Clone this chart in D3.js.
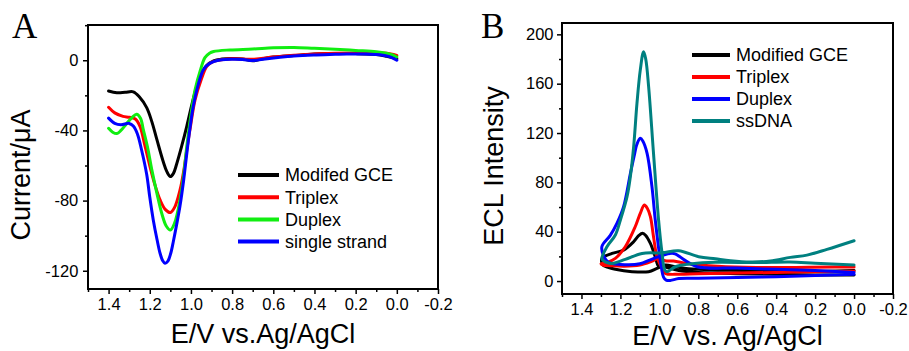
<!DOCTYPE html>
<html><head><meta charset="utf-8">
<script src="https://cdn.jsdelivr.net/npm/d3@7"></script>
<style>
body{margin:0;background:#fff}
svg{display:block}
</style>
</head><body>
<svg id="chart" width="909" height="351"></svg>
<script>
// ---------- Panel A data (E / V, current / uA) ----------
const seriesA = ["Modifed GCE", "Triplex", "Duplex", "single strand"];
const colorsA = ["#000000", "#ff0000", "#11ee11", "#0000ff"];
const modifiedA = [[1.40,-17.5],[1.36,-18.5],[1.32,-18.3],[1.28,-18],[1.25,-21],[1.215,-27],[1.19,-35],[1.166,-45],[1.134,-58],[1.117,-63.5],[1.10,-66.3],[1.085,-64.5],[1.069,-59],[1.045,-49],[1.02,-37.5],[0.995,-25],[0.972,-15],[0.95,-8],[0.924,-3],[0.89,-0.3],[0.85,0.7],[0.8,1],[0.75,0.7],[0.7,-0.3],[0.65,0.8],[0.6,1.8],[0.5,2.7],[0.4,3.5],[0.3,3.8],[0.2,3.8],[0.1,3.3],[0.05,2.3],[0.02,1.5],[0.0,0.8]];
const triplexA = [[1.40,-26.8],[1.37,-30],[1.33,-32],[1.30,-32.5],[1.27,-33.5],[1.247,-37.8],[1.225,-48],[1.199,-60.6],[1.175,-71],[1.15,-79.6],[1.125,-85],[1.10,-86.8],[1.08,-84],[1.053,-73.9],[1.035,-63],[1.02,-51],[1.0,-36],[0.98,-22.6],[0.95,-11],[0.924,-3.6],[0.9,-1.2],[0.875,-0.2],[0.8,0.8],[0.7,0.6],[0.6,1.8],[0.5,2.8],[0.4,3.6],[0.3,4],[0.2,4.2],[0.1,4.3],[0.05,4],[0.0,2.8]];
const duplexA = [[1.40,-38.8],[1.38,-41],[1.36,-41.8],[1.34,-40],[1.312,-36],[1.285,-32.5],[1.264,-30.8],[1.245,-33],[1.231,-39.7],[1.21,-50],[1.19,-62.5],[1.165,-76],[1.142,-87.2],[1.12,-94.5],[1.10,-96.8],[1.08,-93],[1.053,-79.6],[1.035,-65],[1.02,-49],[1.0,-31],[0.98,-16.9],[0.955,-6],[0.932,1.5],[0.91,4],[0.89,5],[0.81,5.9],[0.7,6.4],[0.6,7.1],[0.5,7.3],[0.4,6.8],[0.3,6.3],[0.2,5.6],[0.1,4.9],[0.05,4],[0.02,3],[0.0,1.8]];
const singleA = [[1.40,-33],[1.37,-36],[1.34,-36.8],[1.30,-36],[1.28,-37.5],[1.26,-42],[1.24,-51],[1.215,-65],[1.20,-78],[1.183,-91],[1.165,-102],[1.15,-110],[1.137,-114.3],[1.126,-115.7],[1.112,-114.5],[1.098,-110],[1.085,-103],[1.07,-94],[1.053,-83],[1.035,-68],[1.02,-53],[1.005,-39],[0.989,-26.4],[0.965,-14],[0.94,-5.5],[0.915,-2.3],[0.89,-0.8],[0.85,0.3],[0.8,0.6],[0.75,0.5],[0.7,-0.2],[0.65,0.6],[0.567,1.7],[0.5,2.4],[0.405,3],[0.3,3.4],[0.243,3.6],[0.15,3.5],[0.082,3.2],[0.04,2.2],[0.017,1.1],[0.0,0]];
const xTicksA = [1.4,1.2,1.0,0.8,0.6,0.4,0.2,0.0,-0.2];
const xTickLabelsA = ["1.4","1.2","1.0","0.8","0.6","0.4","0.2","0.0","-0.2"];
const xMinorA = [1.5,1.3,1.1,0.9,0.7,0.5,0.3,0.1,-0.1];
const yTicksA = [0,-40,-80,-120];
const yTickLabelsA = ["0","-40","-80","-120"];
const yMinorA = [20,-20,-60,-100];

// ---------- Panel B data (E / V, ECL intensity), scan loops ----------
const seriesB = ["Modified GCE", "Triplex", "Duplex", "ssDNA"];
const colorsB = ["#000000", "#ff0000", "#0000ff", "#008080"];
const modifiedB = [[0.0,5],[0.2,5],[0.4,5.5],[0.6,6],[0.8,7],[0.9,8.5],[0.95,10.5],[0.985,12],[1.004,12],[1.021,19.7],[1.046,30.5],[1.07,37],[1.086,38.7],[1.105,37],[1.132,31.9],[1.184,25.1],[1.243,22.4],[1.295,18.4],[1.29,13],[1.26,11],[1.226,9.5],[1.14,7.6],[1.055,7.6],[1.012,10.3],[0.969,13],[0.918,11.6],[0.85,10],[0.7,9],[0.5,8.5],[0.3,8],[0.15,8],[0.0,8.5]];
const triplexB = [[0.0,8],[0.2,7.5],[0.4,7],[0.6,6.5],[0.8,6],[0.9,5.5],[0.969,6.2],[0.986,10.3],[1.012,19.7],[1.03,36],[1.046,52.2],[1.062,59],[1.077,61.6],[1.098,54.9],[1.124,44],[1.175,27.8],[1.226,18.4],[1.27,15],[1.30,14],[1.29,13],[1.25,12.5],[1.18,12],[1.1,13],[1.04,16],[1.004,18.4],[0.97,16.5],[0.927,16.2],[0.85,14],[0.7,12],[0.5,11],[0.3,11],[0.1,11.3],[0.0,11.3]];
const duplexB = [[0.0,5.5],[0.2,4.5],[0.4,3.5],[0.6,2.8],[0.8,2.2],[0.9,2],[0.944,0.5],[0.965,0.8],[0.978,3],[0.995,17],[1.021,49.5],[1.038,76.5],[1.063,103.5],[1.085,113.5],[1.098,115.7],[1.115,111],[1.13,101],[1.149,87],[1.184,60],[1.218,46.7],[1.252,37],[1.295,28],[1.285,20],[1.26,15],[1.2,13.5],[1.1,14],[1.05,17],[1.0,20],[0.927,22.4],[0.87,17],[0.807,11.6],[0.6,10.5],[0.4,9.5],[0.2,8.5],[0.0,7]];
const ssdnaB = [[0.0,13],[0.2,14.5],[0.33,15.5],[0.5,15],[0.712,15.2],[0.832,14],[0.918,11.6],[0.96,7.6],[0.972,9],[0.986,22.4],[1.004,49.5],[1.03,103.5],[1.055,157.5],[1.07,180],[1.081,185.9],[1.098,171],[1.115,144],[1.132,108.9],[1.149,84.6],[1.166,68.4],[1.2,49.5],[1.226,37.3],[1.269,27.8],[1.295,18],[1.278,15.5],[1.243,14.3],[1.175,17.6],[1.089,22.4],[0.986,22.9],[0.901,24.6],[0.798,19.7],[0.712,18],[0.635,16.5],[0.533,15.5],[0.43,16.2],[0.327,19.2],[0.242,21],[0.139,25.7],[0.0,32.7]];
const xTicksB = [1.4,1.2,1.0,0.8,0.6,0.4,0.2,0.0,-0.2];
const xTickLabelsB = ["1.4","1.2","1.0","0.8","0.6","0.4","0.2","0.0","-0.2"];
const xMinorB = [1.5,1.3,1.1,0.9,0.7,0.5,0.3,0.1,-0.1];
const yTicksB = [0,40,80,120,160,200];
const yTickLabelsB = ["0","40","80","120","160","200"];
const yMinorB = [20,60,100,140,180];

const SANS = "Arial, 'Liberation Sans', sans-serif";
const SERIF = "'Times New Roman', 'Liberation Serif', serif";
const svg = d3.select("#chart");

function panel(cfg) {
  const x = d3.scaleLinear().domain(cfg.xDomain).range([cfg.left, cfg.right]);
  const y = d3.scaleLinear().domain(cfg.yDomain).range([cfg.bottom, cfg.top]);
  const g = svg.append("g");

  // minor ticks
  g.append("g").attr("transform", `translate(0,${cfg.bottom})`)
    .call(d3.axisBottom(x).tickValues(cfg.xMinor).tickSize(3).tickFormat(""))
    .call(a => a.select(".domain").remove())
    .call(a => a.selectAll("line").attr("stroke", "#000").attr("stroke-width", 1.5));
  g.append("g").attr("transform", `translate(${cfg.left},0)`)
    .call(d3.axisLeft(y).tickValues(cfg.yMinor).tickSize(3).tickFormat(""))
    .call(a => a.select(".domain").remove())
    .call(a => a.selectAll("line").attr("stroke", "#000").attr("stroke-width", 1.5));

  // major ticks
  g.append("g").attr("transform", `translate(0,${cfg.bottom})`)
    .call(d3.axisBottom(x).tickValues(cfg.xTicks).tickSize(5).tickPadding(4)
      .tickFormat((d, i) => cfg.xLabels[i]))
    .call(a => a.select(".domain").remove())
    .call(a => a.selectAll("line").attr("stroke", "#000").attr("stroke-width", 1.5))
    .call(a => a.selectAll("text").style("font-size", "16.5px")
      .style("font-family", SANS).attr("fill", "#000"));
  g.append("g").attr("transform", `translate(${cfg.left},0)`)
    .call(d3.axisLeft(y).tickValues(cfg.yTicks).tickSize(5).tickPadding(cfg.yPad)
      .tickFormat((d, i) => cfg.yLabels[i]))
    .call(a => a.select(".domain").remove())
    .call(a => a.selectAll("line").attr("stroke", "#000").attr("stroke-width", 1.5))
    .call(a => a.selectAll("text").style("font-size", "16.5px")
      .style("font-family", SANS).attr("fill", "#000"));

  // curves
  const line = d3.line().x(d => x(d[0])).y(d => y(d[1])).curve(d3.curveCatmullRom.alpha(0.5));
  cfg.data.forEach((s, i) => {
    g.append("path").attr("d", line(s)).attr("fill", "none")
      .attr("stroke", cfg.colors[i]).attr("stroke-width", 3)
      .attr("stroke-linejoin", "round").attr("stroke-linecap", "round");
  });

  // frame
  g.append("rect").attr("x", cfg.left).attr("y", cfg.top)
    .attr("width", cfg.right - cfg.left).attr("height", cfg.bottom - cfg.top)
    .attr("fill", "none").attr("stroke", "#000").attr("stroke-width", 2);

  // legend
  cfg.names.forEach((n, i) => {
    const yy = cfg.legY + i * cfg.legDy;
    g.append("line").attr("x1", cfg.legX).attr("x2", cfg.legX + cfg.legLen)
      .attr("y1", yy).attr("y2", yy).attr("stroke", cfg.colors[i]).attr("stroke-width", 4);
    g.append("text").attr("x", cfg.legX + cfg.legLen + 6).attr("y", yy).attr("dy", "0.35em")
      .style("font-family", SANS).style("font-size", "18px").attr("fill", "#000").text(n);
  });

  // axis titles
  g.append("text").attr("x", (cfg.left + cfg.right) / 2).attr("y", cfg.xTitleY)
    .attr("text-anchor", "middle").style("font-family", SANS).style("font-size", "27px")
    .attr("fill", "#000").text(cfg.xTitle);
  g.append("text").attr("transform", `translate(${cfg.yTitleX},${cfg.yTitleCy}) rotate(-90)`)
    .attr("text-anchor", "middle").style("font-family", SANS).style("font-size", "27px")
    .attr("fill", "#000").text(cfg.yTitle);

  // panel letter
  g.append("text").attr("x", cfg.letterX).attr("y", 38)
    .style("font-family", SERIF).style("font-size", "35px").attr("fill", "#000").text(cfg.letter);
}

panel({
  left: 88, right: 438, top: 25, bottom: 289,
  xDomain: [1.5, -0.2], yDomain: [-130.4, 20.1],
  xTicks: xTicksA, xLabels: xTickLabelsA, xMinor: xMinorA,
  yTicks: yTicksA, yLabels: yTickLabelsA, yMinor: yMinorA, yPad: 4.7,
  data: [modifiedA, triplexA, duplexA, singleA], colors: colorsA, names: seriesA,
  legX: 238, legLen: 41, legY: 175, legDy: 22.2,
  xTitle: "E/V vs.Ag/AgCl", xTitleY: 343,
  yTitle: "Current/\u03bcA", yTitleX: 29.5, yTitleCy: 175,
  letter: "A", letterX: 12
});

panel({
  left: 562, right: 893, top: 23, bottom: 294,
  xDomain: [1.5, -0.2], yDomain: [-10.5, 209.2],
  xTicks: xTicksB, xLabels: xTickLabelsB, xMinor: xMinorB,
  yTicks: yTicksB, yLabels: yTickLabelsB, yMinor: yMinorB, yPad: 3.5,
  data: [modifiedB, triplexB, duplexB, ssdnaB], colors: colorsB, names: seriesB,
  legX: 692, legLen: 38, legY: 55, legDy: 22,
  xTitle: "E/V vs. Ag/AgCl", xTitleY: 345,
  yTitle: "ECL Intensity", yTitleX: 502.7, yTitleCy: 166,
  letter: "B", letterX: 481
});
</script>
</body></html>
